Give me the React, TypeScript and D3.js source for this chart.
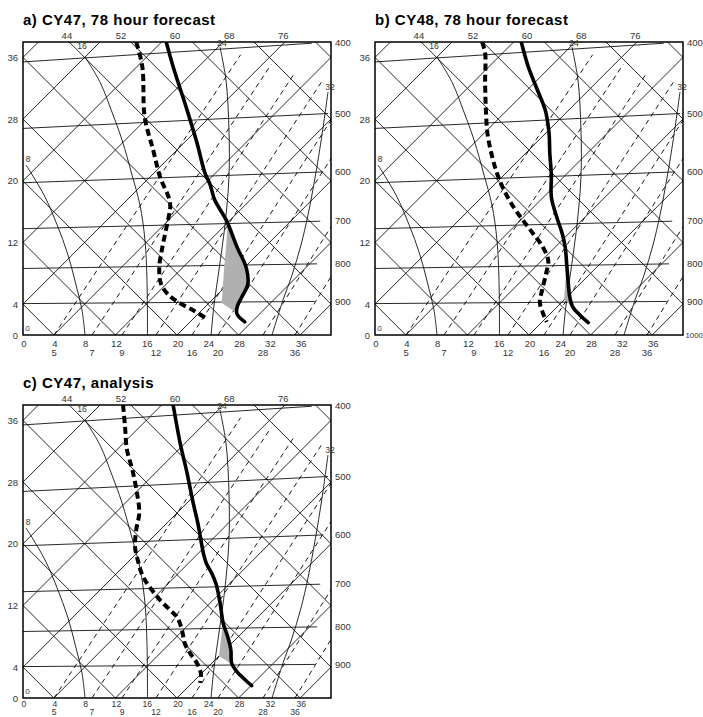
import React from 'react';
import * as d3 from 'd3';

type Pt = [number, number];

// all soundings: [bottom-axis value, left-axis value]
const tempCY47fc: Pt[] = [
  [18.6, 38.0], [19.5, 34.8], [21.3, 29.2], [22.6, 24.9], [23.6, 21.1], [24.3, 19.5],
  [24.9, 17.5], [26.4, 14.9], [27.8, 11.4], [29.0, 8.7], [29.2, 6.6], [28.4, 4.9],
  [27.8, 3.6], [27.8, 2.7], [28.8, 1.7],
];
const dewCY47fc: Pt[] = [
  [14.7, 38.0], [15.5, 34.8], [15.8, 28.3], [16.9, 24.0], [17.8, 20.5], [19.1, 17.1],
  [18.7, 14.3], [18.1, 11.4], [17.7, 8.8], [17.9, 6.7], [18.8, 5.3], [20.1, 4.3],
  [22.1, 3.2], [23.9, 2.1],
];
const parcelCY47fc: Pt[] = [[27.8, 2.85], [25.8, 4.15], [26.1, 8.4], [26.4, 11.7], [26.6, 14.7]];

const tempCY48fc: Pt[] = [
  [19.0, 38.0], [19.9, 34.8], [21.0, 32.0], [22.1, 29.2], [22.6, 26.2], [22.7, 23.6],
  [22.9, 20.8], [22.9, 17.9], [23.6, 15.3], [24.3, 13.2], [24.7, 11.4], [24.9, 9.1],
  [25.1, 6.7], [25.3, 4.9], [25.7, 3.6], [26.6, 2.6], [27.7, 1.6],
];
const dewCY48fc: Pt[] = [
  [13.9, 38.0], [14.3, 36.6], [14.3, 32.7], [14.4, 29.2], [14.6, 26.2], [15.1, 23.6],
  [15.8, 21.1], [16.6, 19.1], [17.8, 16.9], [19.2, 14.9], [20.5, 13.2], [21.8, 11.4],
  [22.5, 9.7], [22.2, 7.9], [21.7, 5.8], [21.4, 4.3], [21.8, 2.85], [22.3, 1.7],
];
const parcelCY48fc: Pt[] = [[25.8, 3.4], [24.55, 4.7], [24.8, 7.8]];

const tempCY47an: Pt[] = [
  [19.5, 38.0], [20.4, 33.1], [21.3, 29.2], [22.1, 25.3], [22.7, 22.7], [23.1, 20.5],
  [23.4, 18.9], [23.8, 17.5], [24.6, 16.0], [25.1, 14.7], [25.6, 12.3], [26.0, 9.7],
  [26.6, 7.9], [27.0, 6.2], [27.1, 4.5], [27.8, 3.4], [28.7, 2.5], [29.7, 1.6],
];
const dewCY47an: Pt[] = [
  [13.0, 38.0], [13.25, 35.2], [13.5, 32.2], [14.2, 29.6], [14.8, 26.6], [15.1, 24.0],
  [14.7, 21.8], [14.55, 19.6], [14.9, 17.9], [15.6, 15.7], [16.75, 14.0], [17.8, 12.7],
  [19.1, 11.4], [20.0, 10.5], [20.65, 8.8], [21.0, 7.1], [21.7, 5.8], [22.6, 4.5],
  [23.1, 3.2], [23.0, 1.95],
];
const parcelCY47an: Pt[] = [[27.1, 4.4], [25.45, 5.45], [25.7, 7.5], [25.95, 9.6]];

// diagram furniture
const pressureLevels = [400, 500, 600, 700, 800, 900];
const rightLabels = ['400', '500', '600', '700', '800', '900'];
const leftTicks = [0, 4, 12, 20, 28, 36];
const bottomTicks = [0, 4, 8, 12, 16, 20, 24, 28, 32, 36];
const thetaTicks = [44, 52, 60, 68, 76];
const mixingRatios = [5, 7, 9, 12, 16, 20, 28, 36];
const satAdiabatLabels = ['8', '16', '24', '32'];

// geometry of the chart background (axis units)
const isobarEnd = [37.5, 39.6, 38.96, 38.6, 38.2, 37.9];
const mixBase = [4.03, 8.96, 12.86, 17.27, 21.95, 25.32, 31.17, 35.32];
const satCurves: Pt[][] = [
  [[0.39, 22.05], [1.3, 20.6], [2.86, 17.9], [4.42, 14.3], [5.84, 10.4], [6.88, 6.5], [7.66, 3.24], [8.05, 0]],
  [[8.05, 36.06], [10.0, 32.8], [11.56, 28.9], [12.86, 25.3], [14.16, 20.75], [15.19, 16.86], [15.84, 12.3], [16.1, 7.1], [16.17, 0]],
  [[25.58, 37.35], [26.36, 33.07], [26.75, 26.6], [26.75, 20.5], [26.23, 14.27], [25.45, 8.43], [24.81, 3.89], [24.42, 0]],
  [[39.61, 31.52], [38.83, 25.94], [37.92, 20.36], [37.01, 15.56], [36.1, 11.67], [34.94, 7.78], [33.77, 4.54], [32.34, 0]],
];
const satLabelOffset: Pt[] = [[2, -6], [-3, -11], [2, -4], [2, -5]];

const U_MAX = 40;
const V_MAX = 38;
const FONT = '"Liberation Sans", Arial, Helvetica, sans-serif';

const x = d3.scaleLinear().domain([0, U_MAX]).range([23, 331]);
const y = d3.scaleLinear().domain([0, V_MAX]).range([335, 42]);
const pScale = d3.scaleLog().domain([1000, 400]).range([0, V_MAX]);
const thetaScale = d3.scaleLinear().domain([44, 76]).range([5.7, 33.8]);
const mixSlope = d3.scaleLinear().domain([5, 36]).range([1.5, 1.62]);

const isobarV = (p: number, u: number) => pScale(p) * (0.932 + (0.068 * u) / U_MAX);

const line = d3.line<Pt>().x(d => x(d[0])).y(d => y(d[1]));
const smooth = d3.line<Pt>().x(d => x(d[0])).y(d => y(d[1])).curve(d3.curveCatmullRom);

function envU(env: Pt[], v: number) {
  for (let i = 0; i < env.length - 1; i++) {
    const a = env[i], b = env[i + 1];
    if ((v <= a[1] && v >= b[1]) || (v >= a[1] && v <= b[1])) {
      const t = (v - a[1]) / (b[1] - a[1]);
      return a[0] + t * (b[0] - a[0]);
    }
  }
  return env[env.length - 1][0];
}

function shadePoly(env: Pt[], parcel: Pt[]): Pt[] {
  const vBot = parcel[0][1];
  const vTop = parcel[parcel.length - 1][1];
  const between = env.filter(d => d[1] < vTop && d[1] > vBot);
  return [...parcel, [envU(env, vTop), vTop], ...between, [envU(env, vBot), vBot]];
}

function Panel({ id, dx, dy, title, temp, dew, parcel, show1000, row1, row2, rowFont }: {
  id: string; dx: number; dy: number; title: string;
  temp: Pt[]; dew: Pt[]; parcel: Pt[]; show1000: boolean; row1: number; row2: number; rowFont: number;
}) {
  const clip = `clip-${id}`;
  const falling = d3.range(4, 80, 8);
  const rising = d3.range(-36, 40, 8);
  const labelStyle = { fontFamily: FONT, fontSize: 9.5, fill: '#333' };
  const rowStyle = { ...labelStyle, fontSize: rowFont };
  const grid = '#111';

  const mixLines = mixingRatios.map((w, i) => {
    const s = mixSlope(w);
    const u0 = mixBase[i];
    // stop where the line meets the cut-off line near the top right
    const uEnd = (36.3 + 0.32 * 28.4 + s * u0) / (s + 0.32);
    return [[u0, 0], [uEnd, s * (uEnd - u0)]] as Pt[];
  });

  return (
    <g transform={`translate(${dx},${dy})`}>
      <defs>
        <clipPath id={clip}>
          <rect x={23} y={42} width={308} height={293} />
        </clipPath>
      </defs>
      <text x={23} y={25} style={{ fontFamily: FONT, fontSize: 15, fontWeight: 'bold', letterSpacing: 0.5 }}>
        {title}
      </text>
      <g clipPath={`url(#${clip})`} fill="none">
        {falling.map(c => (
          <path key={'f' + c} d={line([[c, 0], [c - V_MAX, V_MAX]])!} stroke={grid} strokeWidth={0.9} />
        ))}
        {rising.map(c => (
          <path key={'r' + c} d={line([[c, 0], [c + V_MAX, V_MAX]])!} stroke={grid} strokeWidth={0.9} />
        ))}
        {pressureLevels.map((p, i) => (
          <path key={'p' + p} d={line([[0, isobarV(p, 0)], [isobarEnd[i], isobarV(p, isobarEnd[i])]])!}
            stroke={grid} strokeWidth={0.9} />
        ))}
        {mixLines.map((pts, i) => (
          <path key={'m' + i} d={line(pts)!} stroke="#000" strokeWidth={0.9} strokeDasharray="5,4" />
        ))}
        {satCurves.map((pts, i) => (
          <path key={'s' + i} d={smooth(pts)!} stroke={grid} strokeWidth={0.9} />
        ))}
        <path d={line(shadePoly(temp, parcel))!} fill="#b0b0b0" stroke="none" />
        <path d={smooth(dew)!} stroke="#000" strokeWidth={4} strokeDasharray="7,4" />
        <path d={smooth(temp)!} stroke="#000" strokeWidth={3.6} strokeLinecap="round" />
      </g>
      <rect x={23} y={42} width={308} height={293} fill="none" stroke="#000" strokeWidth={1.5} />
      {satCurves.map((pts, i) => (
        <text key={'sl' + i} x={x(pts[0][0]) + satLabelOffset[i][0]} y={y(pts[0][1]) + satLabelOffset[i][1]}
          textAnchor="middle" dominantBaseline="central" style={{ ...labelStyle, fontSize: 8.5 }}>
          {satAdiabatLabels[i]}
        </text>
      ))}
      <text x={x(0.3)} y={y(0.5)} textAnchor="start" style={{ ...labelStyle, fontSize: 8 }}>0</text>
      {leftTicks.map(t => (
        <text key={'l' + t} x={18} y={y(t)} textAnchor="end" dominantBaseline="central" style={labelStyle}>{t}</text>
      ))}
      {bottomTicks.map(t => (
        <text key={'b' + t} x={x(t) + 1} y={row1} textAnchor="middle" dominantBaseline="central" style={rowStyle}>{t}</text>
      ))}
      {mixingRatios.map((w, i) => (
        <text key={'w' + w} x={x(mixBase[i])} y={row2} textAnchor="middle" dominantBaseline="central" style={rowStyle}>{w}</text>
      ))}
      {thetaTicks.map(t => (
        <text key={'t' + t} x={x(thetaScale(t))} y={35} textAnchor="middle" dominantBaseline="central" style={labelStyle}>{t}</text>
      ))}
      {pressureLevels.map((p, i) => (
        <text key={'rl' + p} x={335} y={y(pScale(p))} dominantBaseline="central" style={labelStyle}>{rightLabels[i]}</text>
      ))}
      {show1000 && (
        <text x={333.5} y={y(0)} dominantBaseline="central" style={{ ...labelStyle, fontSize: 7.8 }}>1000</text>
      )}
    </g>
  );
}

export default function App() {
  return (
    <div style={{ position: 'absolute', left: 0, top: 0 }}>
      <svg width={703} height={717} style={{ display: 'block', background: '#fff' }}>
        <Panel id="a" dx={0} dy={0} title="a) CY47, 78 hour forecast" row1={343} row2={352.5} rowFont={9.5}
          temp={tempCY47fc} dew={dewCY47fc} parcel={parcelCY47fc} show1000={false} />
        <Panel id="b" dx={352} dy={0} title="b) CY48, 78 hour forecast" row1={343} row2={352.5} rowFont={9.5}
          temp={tempCY48fc} dew={dewCY48fc} parcel={parcelCY48fc} show1000={true} />
        <Panel id="c" dx={0} dy={363} title="c) CY47, analysis" row1={340.5} row2={349.3} rowFont={8.6}
          temp={tempCY47an} dew={dewCY47an} parcel={parcelCY47an} show1000={false} />
      </svg>
    </div>
  );
}
